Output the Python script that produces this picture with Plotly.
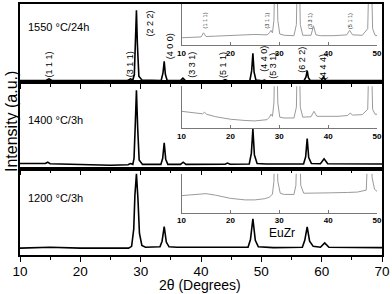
import plotly.graph_objects as go

# ---------------- data (2theta in degrees, intensity in a.u.) ----------------
# 1550 C / 24h (top panel)
top_x = [10, 14.3, 14.8, 15.3, 20, 25, 27.8, 28.3, 28.7, 28.95, 29.15, 29.3, 29.45, 29.7, 30.2,
         33.4, 33.7, 33.9, 34.1, 34.4, 36.6, 37.0, 37.4, 43.6, 44.0, 44.4,
         48.1, 48.4, 48.6, 48.8, 49.1, 50.2, 50.5, 50.8, 57.1, 57.4, 57.6, 57.8, 58.1,
         59.9, 60.3, 60.7, 70]
top_y = [2.5, 2.5, 4.5, 2.5, 2.2, 2.0, 2.2, 4.5, 3.0, 10, 55, 92, 50, 8, 3.0,
         2.5, 12, 27, 10, 2.5, 2.2, 5.5, 2.2, 2.0, 3.5, 2.0,
         2.5, 15, 37, 13, 3.0, 2.0, 3.0, 2.0, 2.5, 7, 15, 6, 2.5,
         2.2, 7, 2.2, 2.2]

# 1400 C / 3h (middle panel)
mid_x = [10, 14.2, 14.6, 15.0, 20, 25, 27.9, 28.3, 28.7, 28.9, 29.1, 29.3, 29.5, 29.75, 30.3,
         33.35, 33.65, 33.9, 34.15, 34.5, 36.6, 37.05, 37.5, 40, 44.0, 44.4, 44.8,
         48.0, 48.35, 48.6, 48.85, 49.3, 50.2, 50.5, 50.8, 55,
         57.0, 57.35, 57.6, 57.85, 58.3, 59.8, 60.4, 61.0, 65, 70]
mid_y = [6.0, 6.0, 7.5, 5.8, 4.8, 4.0, 4.5, 6.0, 5.0, 12, 50, 91, 48, 10, 5.0,
         5.0, 12, 30, 11, 5.0, 5.0, 7.5, 5.0, 5.0, 5.2, 6.5, 5.2,
         5.5, 18, 46, 16, 6.0, 5.5, 6.0, 5.5, 5.5,
         5.5, 14, 35, 13, 6.0, 5.8, 11.5, 5.8, 5.5, 5.5]

# 1200 C / 3h (bottom panel, EuZr)
bot_x = [10, 15, 20, 25, 28.0, 28.5, 28.85, 29.05, 29.3, 29.55, 29.8, 30.2, 30.8,
         33.2, 33.55, 33.9, 34.25, 34.7, 36, 40, 45,
         47.8, 48.2, 48.6, 49.0, 49.5, 52, 55,
         56.8, 57.2, 57.6, 58.0, 58.6, 59.8, 60.5, 61.2, 65, 70]
bot_y = [8.0, 9.0, 8.0, 7.5, 8.0, 10, 30, 70, 94, 65, 25, 11, 9.0,
         9.5, 16, 33, 15, 9.5, 9.0, 9.0, 8.5,
         9.0, 18, 42, 17, 9.5, 8.5, 8.5,
         9.0, 17, 32.5, 16, 10, 9.0, 14, 9.0, 8.5, 8.5]

# insets (zoomed low-intensity region, 10-50 degrees)
ins_top_x = [10, 12, 14.0, 14.5, 15.0, 17, 20, 23, 25, 27.5, 28.0, 28.3, 28.6, 28.9, 29.3, 29.7, 30.1,
             31, 33, 33.5, 33.9, 34.3, 34.8, 36.5, 37.0, 37.5, 38.5, 41, 43.8, 44.4, 45.0,
             47, 48.1, 48.6, 49.1, 49.6, 50]
ins_top_y = [18, 19, 20, 30, 21, 22, 24, 26, 26, 25, 30, 36, 30, 60, 300, 60, 27,
             24, 23, 50, 300, 50, 24, 24, 47, 25, 23, 23, 25, 36, 25,
             24, 40, 300, 40, 24, 23]

ins_mid_x = [10, 12, 14.3, 14.7, 15.1, 17, 20, 23, 25, 27.5, 28.0, 28.3, 28.6, 28.9, 29.3, 29.7, 30.1,
             31, 33, 33.5, 33.9, 34.3, 34.8, 36.5, 37.1, 37.7, 39, 42, 44.0, 44.5, 45.0,
             47, 48.1, 48.6, 49.1, 49.6, 50]
ins_mid_y = [40, 37, 34, 38, 33, 27, 21, 18, 17, 20, 26, 33, 28, 60, 300, 60, 26,
             24, 24, 50, 300, 50, 26, 27, 40, 28, 28, 28, 30, 36, 31,
             32, 45, 300, 45, 33, 33]

ins_bot_x = [10, 12, 15, 17, 20, 23, 25, 27, 28.0, 28.6, 28.9, 29.3, 29.7, 30.2, 31,
             33, 33.4, 33.9, 34.4, 35, 37, 40, 44, 46, 47.8, 48.2, 48.6, 49.0, 49.5, 50]
ins_bot_y = [44, 46, 49, 45, 37, 33, 33, 36, 40, 48, 80, 300, 80, 50, 47,
             47, 70, 300, 70, 50, 50, 51, 52, 53, 58, 90, 300, 90, 60, 55]

main_ticks = [10, 20, 30, 40, 50, 60, 70]
inset_ticks = [10, 20, 30, 40, 50]
inset_tick_text = ["<b>10</b>", "<b>20</b>", "<b>30</b>", "<b>40</b>", "<b>50</b>"]

sample_labels = ["1550 \u00b0C/24h", "1400 \u00b0C/3h", "1200 \u00b0C/3h"]

hkl_labels = ["(1 1 1)", "(3 1 1)", "(2 2 2)", "(4 0 0)", "(3 3 1)",
              "(5 1 1)", "(4 4 0)", "(5 3 1)", "(6 2 2)", "(4 4 4)"]
hkl_x = [14.8, 28.2, 31.5, 34.8, 38.4, 43.55, 50.3, 51.8, 56.6, 60.1]
hkl_y = [22.8, 22.8, 74.7, 45.6, 22.8, 22.8, 30.4, 21.5, 29, 20]

inset_hkl = ["(1 1 1)", "(3 1 1)", "(3 3 1)", "(5 1 1)"]
inset_hkl_x = [14.7, 27.4, 36.3, 44.5]
inset_hkl_y = [59, 59, 59, 59]

# ---------------- figure ----------------
FONT = "Arial, Liberation Sans, sans-serif"
fig = go.Figure()

main_line = dict(color="black", width=1.6)
ins_line = dict(color="#9a9a9a", width=1)

fig.add_trace(go.Scatter(x=bot_x, y=bot_y, mode="lines", line=main_line, xaxis="x", yaxis="y"))
fig.add_trace(go.Scatter(x=mid_x, y=mid_y, mode="lines", line=main_line, xaxis="x2", yaxis="y2"))
fig.add_trace(go.Scatter(x=top_x, y=top_y, mode="lines", line=main_line, xaxis="x3", yaxis="y3"))
fig.add_trace(go.Scatter(x=ins_top_x, y=ins_top_y, mode="lines", line=ins_line, xaxis="x4", yaxis="y4"))
fig.add_trace(go.Scatter(x=ins_mid_x, y=ins_mid_y, mode="lines", line=ins_line, xaxis="x5", yaxis="y5"))
fig.add_trace(go.Scatter(x=ins_bot_x, y=ins_bot_y, mode="lines", line=ins_line, xaxis="x6", yaxis="y6"))

def main_x(anchor, labels):
    return dict(domain=[0, 1], range=[10, 70], anchor=anchor, showline=True, mirror=True,
                linecolor="black", linewidth=1.5, ticks="outside", ticklen=5, tickwidth=1.2,
                tickcolor="black", tickvals=main_ticks, showticklabels=labels,
                ticklabelstandoff=-2,
                tickfont=dict(family=FONT, size=13.5, color="black"),
                minor=dict(dtick=5, ticks="outside", ticklen=3, tickcolor="black", tickwidth=1.2),
                showgrid=False, zeroline=False)

def main_y(anchor, dom):
    return dict(domain=dom, range=[0, 100], anchor=anchor, showline=True, mirror=True,
                linecolor="black", linewidth=1.5, ticks="", showticklabels=False,
                showgrid=False, zeroline=False)

IX = [0.4463, 0.9862]

def ins_x(anchor):
    return dict(domain=IX, range=[10, 50], anchor=anchor, showline=True, mirror=False,
                linecolor="#777", linewidth=1, ticks="inside", ticklen=3, tickcolor="#777",
                tickmode="array", tickvals=inset_ticks, ticktext=inset_tick_text,
                showticklabels=True, ticklabeloverflow="allow",
                tickfont=dict(family=FONT, size=8, color="black"),
                showgrid=False, zeroline=False)

def ins_y(anchor, dom):
    return dict(domain=dom, range=[0, 100], anchor=anchor, showline=True, mirror=False,
                linecolor="#777", linewidth=1, ticks="", showticklabels=False,
                showgrid=False, zeroline=False)

fig.update_layout(
    width=392, height=294,
    margin=dict(l=20, r=9, t=2, b=39),
    paper_bgcolor="white", plot_bgcolor="rgba(0,0,0,0)",
    showlegend=False,
    font=dict(family=FONT, color="black"),
    xaxis=main_x("y", True), yaxis=main_y("x", [0, 0.3439]),
    xaxis2=main_x("y2", False), yaxis2=main_y("x2", [0.3439, 0.6877]),
    xaxis3=main_x("y3", False), yaxis3=main_y("x3", [0.6877, 1.0]),
    xaxis4=ins_x("y4"), yaxis4=ins_y("x4", [0.836, 1.0]),
    xaxis5=ins_x("y5"), yaxis5=ins_y("x5", [0.506, 0.672]),
    xaxis6=ins_x("y6"), yaxis6=ins_y("x6", [0.168, 0.324]),
)

ann = []
# sample labels
for lbl, yr in zip(sample_labels, ["y3", "y2", "y"]):
    ypos = {"y3": 71, "y2": 56, "y": 66}[yr]
    ann.append(dict(text=lbl, x=11.0, y=ypos, xref=yr.replace("y", "x"), yref=yr,
                    xanchor="left", yanchor="middle", showarrow=False,
                    font=dict(family=FONT, size=11, color="black")))
# Miller indices in top panel
for t, xv, yv in zip(hkl_labels, hkl_x, hkl_y):
    ann.append(dict(text=t, x=xv, y=yv, xref="x3", yref="y3", textangle=-90,
                    showarrow=False, xanchor="center", yanchor="middle",
                    font=dict(family=FONT, size=9, color="black")))
# Miller indices in top inset
for t, xv, yv in zip(inset_hkl, inset_hkl_x, inset_hkl_y):
    ann.append(dict(text=t, x=xv, y=yv, xref="x4", yref="y4", textangle=-90,
                    showarrow=False, xanchor="center", yanchor="middle",
                    font=dict(family=FONT, size=5.5, color="#333")))
# EuZr
ann.append(dict(text="EuZr", x=53.4, y=25, xref="x", yref="y", showarrow=False,
                font=dict(family=FONT, size=12, color="black")))
# axis titles
ann.append(dict(text="Intensity (a.u.)", x=-0.022, y=0.53, xref="paper", yref="paper",
                textangle=-90, showarrow=False, xanchor="center", yanchor="middle",
                font=dict(family=FONT, size=16, color="black")))
ann.append(dict(text="2\u03b8 (Degrees)",
                x=0.497, y=-0.156, xref="paper", yref="paper",
                showarrow=False, xanchor="center", yanchor="bottom", borderpad=0,
                font=dict(family=FONT, size=14, color="black")))
fig.update_layout(annotations=ann)

fig.write_html("out.html", config={"displayModeBar": False},
               post_script="document.body.style.margin='0px';")
